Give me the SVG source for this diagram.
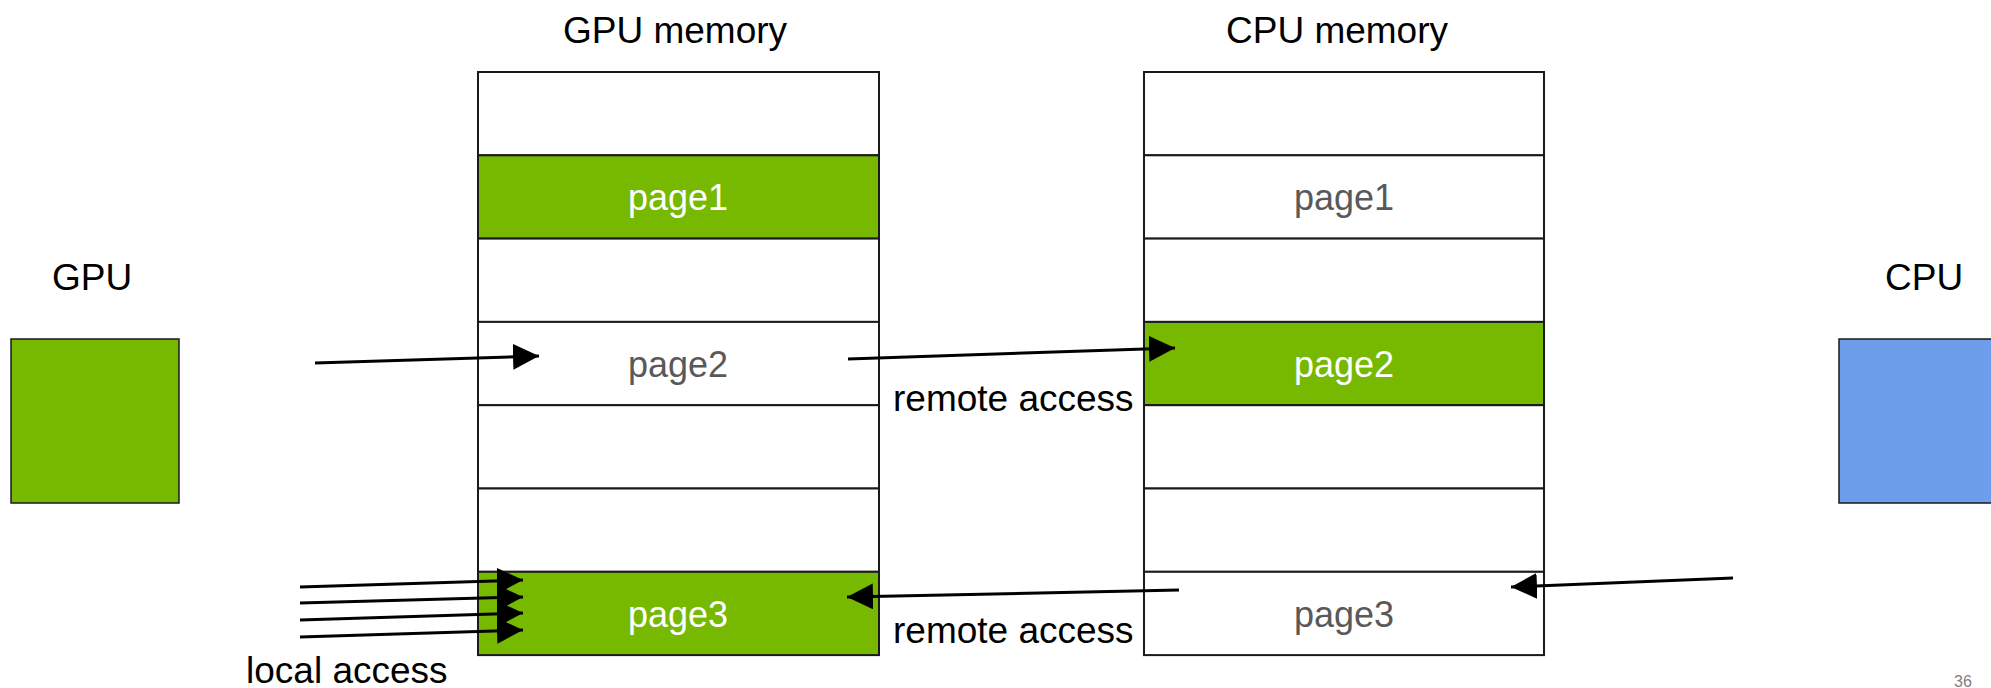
<svg xmlns="http://www.w3.org/2000/svg" width="1991" height="688" viewBox="0 0 1991 688">
<style>
  text { font-family: "Liberation Sans", Arial, sans-serif; font-size: 37px; }
  .lbl { fill: #000; }
  .pg { text-anchor: middle; font-size: 36px; }
  .pw { fill: #ffffff; }
  .pgr { fill: #595959; }
  .cell { fill: #ffffff; stroke: #1a1a1a; stroke-width: 2; }
  .cellg { fill: #76b900; stroke: #1a1a1a; stroke-width: 2; }
  .conn { stroke: #000; stroke-width: 3; fill: none; marker-end: url(#ah); }
</style>
<defs>
  <marker id="ah" viewBox="0 0 26 26" refX="26" refY="13" markerWidth="26" markerHeight="26" markerUnits="userSpaceOnUse" orient="auto">
    <path d="M0,0 L26,13 L0,26 z" fill="#000"/>
  </marker>
</defs>
<rect width="1991" height="688" fill="#ffffff"/>

<g id="gpu">
  <text class="lbl" x="52" y="290">GPU</text>
  <rect x="11" y="339" width="168" height="164" fill="#76b900" stroke="#1a1a1a" stroke-width="1.5"/>
</g>

<g id="cpu">
  <text class="lbl" x="1885" y="290">CPU</text>
  <rect x="1839" y="339" width="170" height="164" fill="#6d9eeb" stroke="#1a1a1a" stroke-width="1.5"/>
</g>

<g id="gpu-memory">
  <text class="lbl" x="675" y="43" text-anchor="middle">GPU memory</text>
  <rect class="cell" x="478" y="72" width="401" height="83.3"/>
  <rect class="cellg" x="478" y="155.3" width="401" height="83.3"/>
  <rect class="cell" x="478" y="238.6" width="401" height="83.3"/>
  <rect class="cell" x="478" y="321.9" width="401" height="83.3"/>
  <rect class="cell" x="478" y="405.2" width="401" height="83.3"/>
  <rect class="cell" x="478" y="488.5" width="401" height="83.3"/>
  <rect class="cellg" x="478" y="571.8" width="401" height="83.3"/>
  <text class="pg pw" x="678" y="210">page1</text>
  <text class="pg pgr" x="678" y="377">page2</text>
  <text class="pg pw" x="678" y="627">page3</text>
</g>

<g id="cpu-memory">
  <text class="lbl" x="1337" y="43" text-anchor="middle">CPU memory</text>
  <rect class="cell" x="1144" y="72" width="400" height="83.3"/>
  <rect class="cell" x="1144" y="155.3" width="400" height="83.3"/>
  <rect class="cell" x="1144" y="238.6" width="400" height="83.3"/>
  <rect class="cellg" x="1144" y="321.9" width="400" height="83.3"/>
  <rect class="cell" x="1144" y="405.2" width="400" height="83.3"/>
  <rect class="cell" x="1144" y="488.5" width="400" height="83.3"/>
  <rect class="cell" x="1144" y="571.8" width="400" height="83.3"/>
  <text class="pg pgr" x="1344" y="210">page1</text>
  <text class="pg pw" x="1344" y="377">page2</text>
  <text class="pg pgr" x="1344" y="627">page3</text>
</g>

<g id="connectors">
  <line class="conn" x1="315" y1="363" x2="539" y2="356"/>
  <line class="conn" x1="848" y1="359" x2="1175" y2="348"/>
  <line class="conn" x1="1179" y1="590" x2="847" y2="597"/>
  <line class="conn" x1="1733" y1="578" x2="1511" y2="587"/>
  <line class="conn" x1="300" y1="587" x2="523" y2="580"/>
  <line class="conn" x1="300" y1="603" x2="523" y2="597"/>
  <line class="conn" x1="300" y1="620" x2="523" y2="613"/>
  <line class="conn" x1="300" y1="637" x2="523" y2="630"/>
</g>

<g id="labels">
  <text class="lbl" x="893" y="411">remote access</text>
  <text class="lbl" x="893" y="643">remote access</text>
  <text class="lbl" x="246" y="683">local access</text>
  <text x="1954" y="687" style="font-size:16px; fill:#7f7f7f;">36</text>
</g>
</svg>
